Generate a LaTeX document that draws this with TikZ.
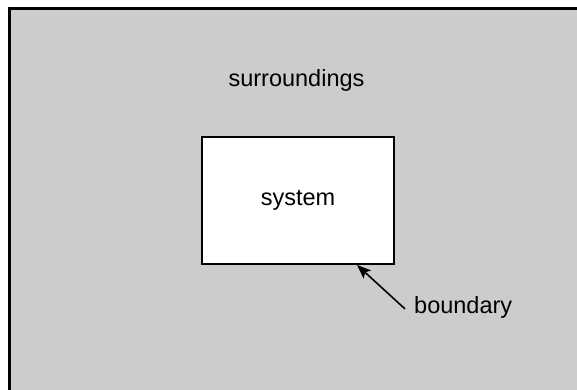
\documentclass[tikz,border=0pt]{standalone}
\usepackage{fontspec}
\setmainfont{Liberation Sans}
\usetikzlibrary{positioning, calc, arrows.meta}
\definecolor{surr}{RGB}{204,204,204}
\begin{document}
\begin{tikzpicture}[x=1pt, y=-1pt,
    font=\fontsize{23.5}{28}\selectfont,
    label/.style={inner sep=0pt},
    sysbox/.style={draw, fill=white, line width=2pt, minimum width=192pt, minimum height=127pt},
    pointer/.style={line width=1.6pt, -{Stealth[length=14pt, width=11pt, inset=3pt]}}]
  \useasboundingbox (0,0) rectangle (577,390);
  \draw[fill=surr, line width=3pt] (9.5,8.5) rectangle (620,430);
  \node[label, anchor=base] (surroundings) at (296.5,87) {surroundings};
  \node[sysbox] (system) at (298,200.5) {system};
  \node[label, anchor=base west] (boundary) at (414,313) {boundary};
  \coordinate (tip) at (357,265);
  \coordinate (tail) at ($(boundary.west)+(-9,2)$);
  \draw[pointer] (tail) -- (tip);
\end{tikzpicture}
\end{document}
